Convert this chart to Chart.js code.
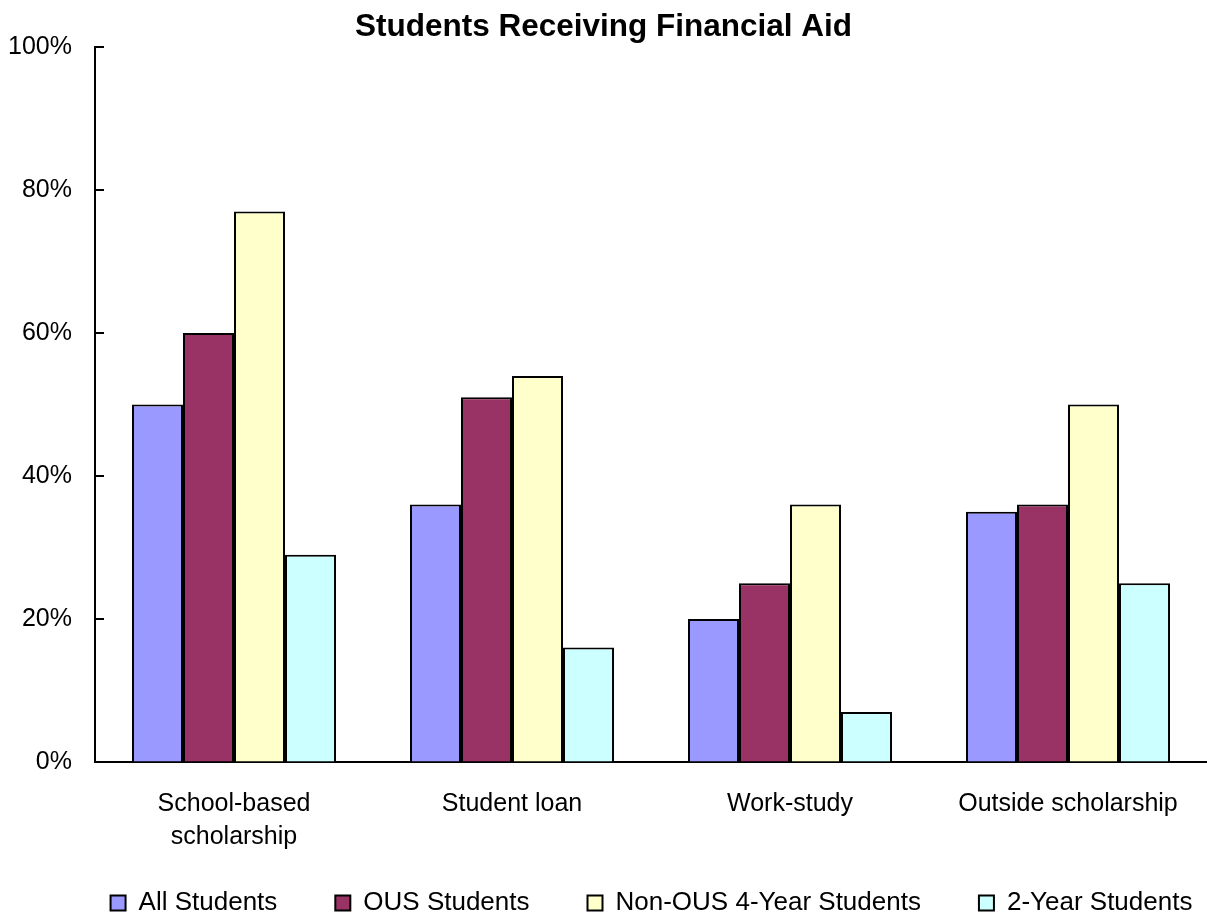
<!DOCTYPE html>
<html>
<head>
<meta charset="utf-8">
<script src="https://cdn.jsdelivr.net/npm/chart.js@4"></script>
<style>
html,body{margin:0;padding:0;background:#fff;overflow:hidden}
canvas{display:block}
</style>
</head>
<body>
<canvas id="c" width="1207" height="917"></canvas>
<script>
const categories = [["School-based", "scholarship"], "Student loan", "Work-study", "Outside scholarship"];
const seriesNames = ["All Students", "OUS Students", "Non-OUS 4-Year Students", "2-Year Students"];
const allStudents = [50, 36, 20, 35];
const ousStudents = [60, 51, 25, 36];
const nonOus4Year = [77, 54, 36, 50];
const twoYear = [29, 16, 7, 25];
const yTickValues = [0, 20, 40, 60, 80, 100];
const seriesColors = ["#9999FF", "#993366", "#FFFFCC", "#CCFFFF"];

const FONT = "'Liberation Sans', Arial, sans-serif";
const LEGEND_FONT = 26;
const LEGEND_PAD = 58;

const inwardTicks = {
  id: 'inwardTicks',
  afterLayout(chart) {
    const lg = chart.legend;
    if (lg) {
      const newTop = 903 - LEGEND_PAD - LEGEND_FONT / 2;
      lg.top = newTop;
      lg.bottom = chart.height;
      lg.height = lg.bottom - lg.top;
      lg.left += 48;
      lg.right += 48;
    }
  },
  afterDatasetsDraw(chart) {
    const y = chart.scales.y;
    const ctx = chart.ctx;
    const left = chart.chartArea.left;
    ctx.save();
    ctx.strokeStyle = '#000';
    ctx.lineWidth = 2;
    yTickValues.forEach(v => {
      const py = Math.round(y.getPixelForValue(v));
      ctx.beginPath();
      ctx.moveTo(left, py);
      ctx.lineTo(left + 9, py);
      ctx.stroke();
    });
    ctx.restore();
  }
};

const seriesData = [allStudents, ousStudents, nonOus4Year, twoYear];

new Chart(document.getElementById('c'), {
  type: 'bar',
  data: {
    labels: categories,
    datasets: seriesNames.map((name, i) => ({
      label: name,
      data: seriesData[i],
      backgroundColor: seriesColors[i],
      borderColor: '#000',
      borderWidth: 2,
      categoryPercentage: 0.734,
      barPercentage: 1.0
    }))
  },
  options: {
    responsive: false,
    animation: false,
    devicePixelRatio: 1,
    layout: { padding: { left: 0, right: 0, top: 0, bottom: 0 } },
    plugins: {
      title: {
        display: true,
        text: 'Students Receiving Financial Aid',
        color: '#000',
        font: { family: FONT, size: 31.5, weight: 'bold', lineHeight: 1.2 },
        padding: { top: 8, bottom: 1.2 }
      },
      legend: {
        position: 'bottom',
        maxHeight: 50,
        labels: {
          color: '#000',
          boxWidth: 15,
          boxHeight: 15,
          padding: LEGEND_PAD,
          font: { family: FONT, size: LEGEND_FONT },
          generateLabels(chart) {
            return chart.data.datasets.map((ds, i) => ({
              text: ds.label,
              fillStyle: ds.backgroundColor,
              strokeStyle: '#000',
              lineWidth: 2,
              hidden: false,
              datasetIndex: i,
              fontColor: '#000'
            }));
          }
        }
      },
      tooltip: { enabled: false }
    },
    scales: {
      x: {
        afterFit(scale) { scale.height = 105; },
        grid: { display: true, drawOnChartArea: false, drawTicks: false },
        border: { display: true, color: '#000', width: 2 },
        ticks: {
          color: '#000',
          padding: 26,
          maxRotation: 0,
          font: { family: FONT, size: 25, lineHeight: 1.3 }
        }
      },
      y: {
        min: 0,
        max: 100,
        afterFit(scale) { scale.width = 95; },
        afterBuildTicks(scale) { scale.ticks = yTickValues.map(v => ({ value: v })); },
        grid: { display: true, drawOnChartArea: false, drawTicks: false },
        border: { display: true, color: '#000', width: 2 },
        ticks: {
          color: '#000',
          padding: 23,
          font: { family: FONT, size: 25 },
          callback: v => v + '%'
        }
      }
    }
  },
  plugins: [inwardTicks]
});
</script>
</body>
</html>
